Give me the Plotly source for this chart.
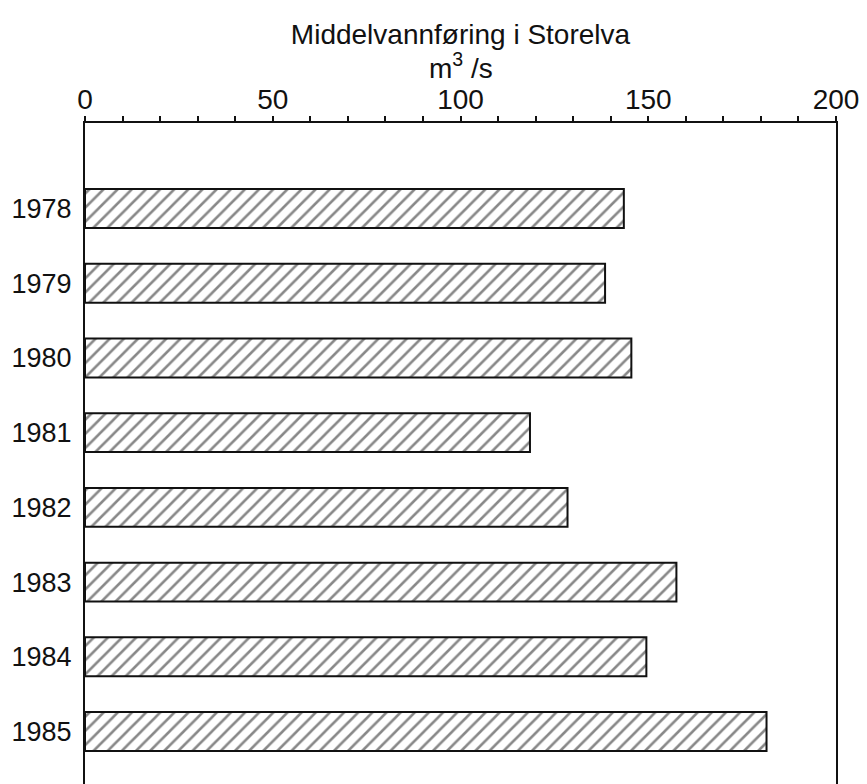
import plotly.graph_objects as go

years = ["1978", "1979", "1980", "1981", "1982", "1983", "1984", "1985"]
flow = [143.5, 138.5, 145.5, 118.5, 128.5, 157.5, 149.5, 181.5]
x_tickvals = [0, 50, 100, 150, 200]
title_text = "Middelvannføring i Storelva"
unit_text = "m<sup>3</sup> /s"

FONT = "Liberation Sans, Arial, Helvetica, sans-serif"
INK = "#111111"

W, H = 867, 784
T, L, R = 115, 77, 39
plot_h = H - T

fig = go.Figure()
fig.add_trace(go.Bar(
    y=years, x=flow, orientation="h", width=0.52,
    marker=dict(
        color="white",
        line=dict(color=INK, width=2),
        pattern=dict(shape="/", size=10, solidity=0.26, fgcolor=INK, bgcolor="white", fillmode="overlay"),
    ),
    showlegend=False, hoverinfo="x+y",
))

fig.update_layout(
    width=W, height=H,
    margin=dict(l=L, r=R, t=T, b=0),
    paper_bgcolor="white", plot_bgcolor="white",
    font=dict(family=FONT, color=INK, size=26),
    title=dict(text=title_text, x=0.5, xref="paper", xanchor="center",
               y=1 - 26 / H, yref="container", yanchor="middle",
               font=dict(size=28, family=FONT, color=INK)),
    xaxis=dict(
        side="top", range=[0, 200], tickvals=x_tickvals,
        showline=True, linecolor=INK, linewidth=2,
        ticks="outside", ticklen=5, tickwidth=2, tickcolor=INK,
        ticklabelstandoff=-4,
        minor=dict(dtick=10, ticks="outside", ticklen=5, tickwidth=2, tickcolor=INK),
        showgrid=False, zeroline=False,
        tickfont=dict(size=28, family=FONT, color=INK),
    ),
    yaxis=dict(
        type="category", categoryorder="array", categoryarray=years,
        range=[7.81, -1.145],
        showline=True, linecolor=INK, linewidth=2, mirror=True,
        ticks="", showgrid=False, zeroline=False,
        ticklabelstandoff=6,
        tickfont=dict(size=27, family=FONT, color=INK),
    ),
    annotations=[dict(
        text=unit_text, xref="x", x=100, yref="paper", y=(H - 58) / plot_h,
        xanchor="center", yanchor="middle", showarrow=False,
        font=dict(size=28, family=FONT, color=INK),
    )],
)

fig.write_html("out.html")
